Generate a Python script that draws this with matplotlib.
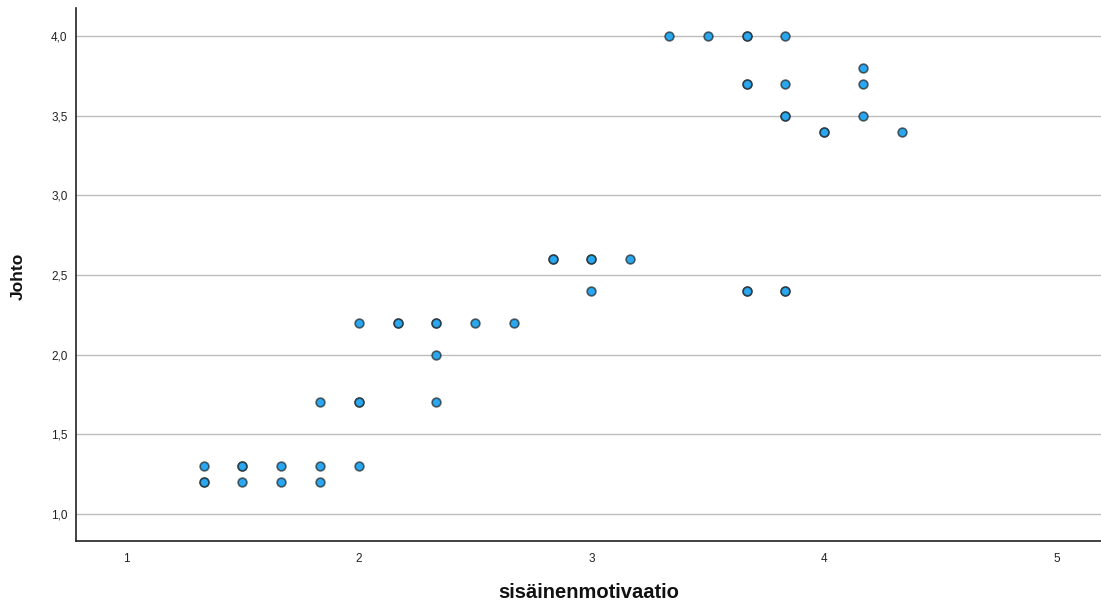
import matplotlib
matplotlib.use("Agg")
import matplotlib.pyplot as plt
from matplotlib.ticker import FixedLocator, FixedFormatter

# Data (duplicates represent overlapping observations)
x_vals = [
    1.333, 1.333, 1.5, 1.667, 1.833,             # y = 1.2
    1.333, 1.5, 1.5, 1.667, 1.833, 2.0,          # y = 1.3
    1.833, 2.0, 2.0, 2.333,                      # y = 1.7
    2.333,                                       # y = 2.0
    2.0, 2.167, 2.167, 2.333, 2.333, 2.5, 2.667, # y = 2.2
    3.0, 3.667, 3.667, 3.833, 3.833,             # y = 2.4
    2.833, 2.833, 3.0, 3.0, 3.167,               # y = 2.6
    4.0, 4.0, 4.333,                             # y = 3.4
    3.833, 3.833, 4.167,                         # y = 3.5
    3.667, 3.667, 3.833, 4.167,                  # y = 3.7
    4.167,                                       # y = 3.8
    3.333, 3.5, 3.667, 3.667, 3.833,             # y = 4.0
]
y_vals = (
    [1.2] * 5 + [1.3] * 6 + [1.7] * 4 + [2.0] * 1 + [2.2] * 7 +
    [2.4] * 5 + [2.6] * 5 + [3.4] * 3 + [3.5] * 3 + [3.7] * 4 +
    [3.8] * 1 + [4.0] * 5
)

x_ticks = [1, 2, 3, 4, 5]
x_tick_labels = ["1", "2", "3", "4", "5"]
y_ticks = [1.0, 1.5, 2.0, 2.5, 3.0, 3.5, 4.0]
y_tick_labels = ["1,0", "1,5", "2,0", "2,5", "3,0", "3,5", "4,0"]

x_label = "sisäinenmotivaatio"
y_label = "Johto"

plt.rcParams['font.family'] = ['Liberation Sans', 'DejaVu Sans']

fig = plt.figure(figsize=(11.01, 6.03), dpi=100)
ax = fig.add_axes([76 / 1101, 62 / 603, 1 - 76 / 1101, (541 - 8) / 603])

ax.scatter(x_vals, y_vals, s=40, c='#2AA7EE',
           edgecolors=(0.1, 0.1, 0.1, 0.65), linewidths=1.2, zorder=3)

ax.set_xlim(0.785, 5.19)
ax.set_ylim(0.83, 4.176)

ax.xaxis.set_major_locator(FixedLocator(x_ticks))
ax.xaxis.set_major_formatter(FixedFormatter(x_tick_labels))
ax.yaxis.set_major_locator(FixedLocator(y_ticks))
ax.yaxis.set_major_formatter(FixedFormatter(y_tick_labels))

ax.tick_params(axis='both', length=0, labelsize=8.5, colors='#222222')
ax.tick_params(axis='y', pad=6)
ax.tick_params(axis='x', pad=9)

ax.grid(axis='y', color='#BDBDBD', linewidth=1.0, zorder=0)
ax.set_axisbelow(True)

for s in ['top', 'right']:
    ax.spines[s].set_visible(False)
for s in ['left', 'bottom']:
    ax.spines[s].set_color('#222222')
    ax.spines[s].set_linewidth(1.2)

fig.text(589 / 1101, 1 - 592 / 603, x_label, ha='center', va='center',
         fontsize=14.5, fontweight='bold', color='#111111')
fig.text(18 / 1101, 1 - 276 / 603, y_label, ha='center', va='center',
         rotation=90, fontsize=12.5, fontweight='bold', color='#111111')

fig.savefig("out.png", dpi=100)
